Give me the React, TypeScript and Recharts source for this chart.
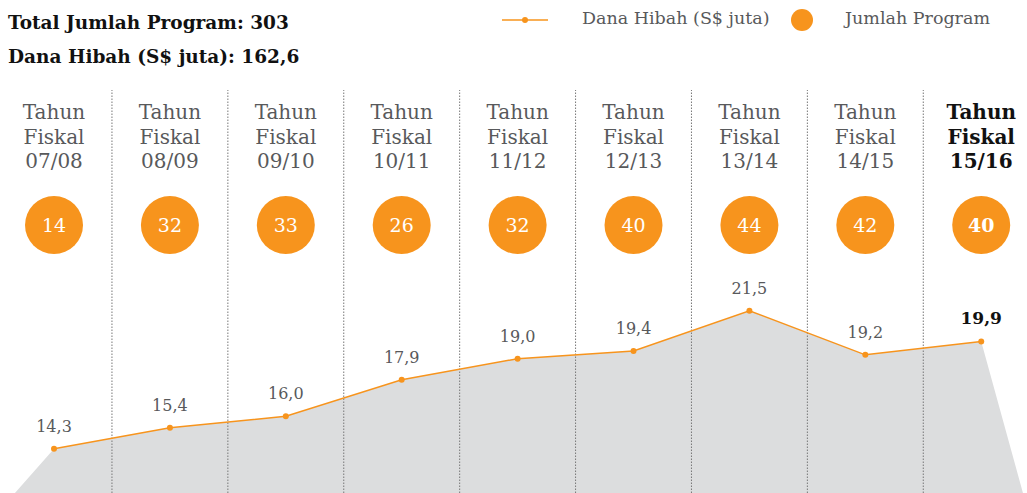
import React from "react";
import {
  ComposedChart,
  Area,
  Line,
  Scatter,
  XAxis,
  YAxis,
  ReferenceLine,
  LabelList,
} from "recharts";

// Tahun fiskal, dana hibah (S$ juta) dan jumlah program
const tahun = ["07/08", "08/09", "09/10", "10/11", "11/12", "12/13", "13/14", "14/15", "15/16"];
const danaHibah = [14.3, 15.4, 16.0, 17.9, 19.0, 19.4, 21.5, 19.2, 19.9];
const jumlahProgram = [14, 32, 33, 26, 32, 40, 44, 42, 40];

// bidang abu-abu turun ke tepi bawah di kiri dan kanan
const tepiKiri = { x: -0.337, nilai: 12 };
const tepiKanan = { x: 8.36, nilai: 12 };

const ORANYE = "#F7941D";
const ABU = "#DCDDDE";
const TEKS = "#58595B";
const FONT = "'DejaVu Serif', serif";

const W = 1027;
const H = 493;

const dataKolom = tahun.map((t, i) => ({
  x: i,
  tahun: t,
  hibah: danaHibah[i],
  bidang: danaHibah[i],
  program: jumlahProgram[i],
}));

const dataGabung = [
  { x: tepiKiri.x, bidang: tepiKiri.nilai },
  ...dataKolom,
  { x: tepiKanan.x, bidang: tepiKanan.nilai },
];

const fmt = (n: number) => n.toFixed(1).replace(".", ",");
const last = tahun.length - 1;

// kepala kolom + lingkaran jumlah program
function Kolom(props: any) {
  const { cx, payload } = props;
  const bold = payload.x === last;
  const style = {
    fontFamily: FONT,
    fontSize: 20,
    fill: bold ? "#111" : TEKS,
    fontWeight: bold ? 700 : 300,
  };
  return (
    <g>
      <text x={cx} y={119} textAnchor="middle" style={style}>Tahun</text>
      <text x={cx} y={144} textAnchor="middle" style={style}>Fiskal</text>
      <text x={cx} y={168} textAnchor="middle" style={style}>{payload.tahun}</text>
      <circle cx={cx} cy={225} r={29} fill={ORANYE} />
      <text
        x={cx}
        y={232}
        textAnchor="middle"
        style={{ fontFamily: FONT, fontSize: 19, fill: "#fff", fontWeight: bold ? 700 : 400 }}
      >
        {payload.program}
      </text>
    </g>
  );
}

function LabelHibah(props: any) {
  const { x, y, value, index } = props;
  if (value == null) return null;
  const bold = index === last;
  return (
    <text
      x={x}
      y={y - 17}
      textAnchor="middle"
      style={{
        fontFamily: FONT,
        fontSize: bold ? 17 : 16,
        fill: bold ? "#111" : TEKS,
        fontWeight: bold ? 700 : 400,
      }}
    >
      {fmt(value)}
    </text>
  );
}

export default function App() {
  return (
    <div style={{ position: "absolute", left: 0, top: 0, width: W, height: H, background: "#fff", overflow: "hidden" }}>
      <div style={{ position: "absolute", left: 8, top: 6, fontFamily: FONT, fontWeight: 700, fontSize: 18.5, color: "#111", lineHeight: "34px" }}>
        <div>Total Jumlah Program: 303</div>
        <div>Dana Hibah (S$ juta): 162,6</div>
      </div>

      <div style={{ position: "absolute", left: 0, top: 0, height: 40, width: W, fontFamily: FONT, fontSize: 17.5, color: TEKS }}>
        <svg width={W} height={40} style={{ position: "absolute", left: 0, top: 0 }}>
          <line x1={502} y1={20} x2={548} y2={20} stroke={ORANYE} strokeWidth={1.5} />
          <circle cx={525} cy={20} r={3} fill={ORANYE} />
          <circle cx={802} cy={20} r={11} fill={ORANYE} />
        </svg>
        <span style={{ position: "absolute", left: 582, top: 8 }}>Dana Hibah (S$ juta)</span>
        <span style={{ position: "absolute", left: 845, top: 8 }}>Jumlah Program</span>
      </div>

      <ComposedChart
        width={W}
        height={H}
        data={dataGabung}
        margin={{ top: 90, right: 0, bottom: 0, left: 0 }}
        style={{ position: "absolute", left: 0, top: 0 }}
      >
        <XAxis
          xAxisId="x"
          dataKey="x"
          type="number"
          domain={[-0.466, 8.395]}
          allowDataOverflow
          hide
        />
        <YAxis yAxisId="y" type="number" domain={[12, 33]} allowDataOverflow hide />
        <YAxis yAxisId="p" type="number" domain={[0, 50]} hide />

        {tahun.slice(0, -1).map((_, i) => (
          <ReferenceLine
            key={i}
            xAxisId="x"
            yAxisId="y"
            x={i + 0.5}
            stroke="#777"
            strokeDasharray="1.5 1.5"
            strokeWidth={1}
          />
        ))}

        <Area
          xAxisId="x"
          yAxisId="y"
          dataKey="bidang"
          type="linear"
          stroke="none"
          fill={ABU}
          fillOpacity={1}
          baseValue={12}
          isAnimationActive={false}
        />
        <Line
          xAxisId="x"
          yAxisId="y"
          dataKey="hibah"
          type="linear"
          stroke={ORANYE}
          strokeWidth={1.5}
          dot={{ r: 3, fill: ORANYE, stroke: "none" }}
          activeDot={false}
          isAnimationActive={false}
        >
          <LabelList dataKey="hibah" content={(p: any) => <LabelHibah {...p} index={p.index - 1} />} />
        </Line>
        <Scatter
          xAxisId="x"
          yAxisId="p"
          data={dataKolom}
          dataKey="program"
          shape={<Kolom />}
          isAnimationActive={false}
        />
      </ComposedChart>
    </div>
  );
}
